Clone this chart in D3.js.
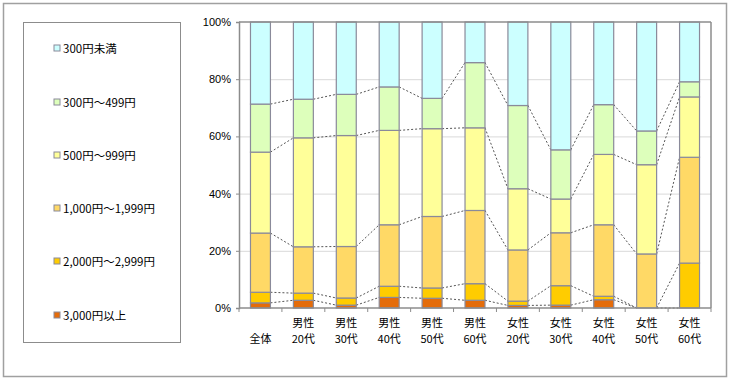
<!DOCTYPE html>
<html><head><meta charset="utf-8">
<script src="https://cdn.jsdelivr.net/npm/d3@7"></script>
<style>body{margin:0;background:#fff}svg{display:block;font-family:"Noto Sans CJK JP","Noto Sans",sans-serif}</style>
</head><body><svg id="c" width="730" height="380"></svg>
<script>
const categories = [["全体",""],["男性","20代"],["男性","30代"],["男性","40代"],["男性","50代"],["男性","60代"],["女性","20代"],["女性","30代"],["女性","40代"],["女性","50代"],["女性","60代"]];
const seriesNames = ["3,000円以上","2,000円～2,999円","1,000円～1,999円","500円～999円","300円～499円","300円未満"];
const seriesColors = ["#E46C0A","#FFCC00","#FFD966","#FFFF99","#DDFFBB","#CCFFFF"];
// values per series (percent), bottom to top
const s3000 = [1.8, 2.7, 1.0, 3.7, 3.4, 2.7, 0.9, 1.0, 2.9, 0, 0];
const s2000 = [3.7, 2.5, 2.5, 3.9, 3.6, 5.8, 1.5, 6.8, 1.2, 0, 15.7];
const s1000 = [20.7, 16.2, 18.0, 21.5, 25.0, 25.6, 17.9, 18.5, 25.0, 18.9, 37.0];
const s500  = [28.3, 38.1, 38.8, 33.0, 30.7, 28.9, 21.4, 11.8, 24.6, 31.2, 21.1];
const s300  = [16.8, 13.5, 14.4, 15.2, 10.6, 22.8, 29.1, 17.2, 17.4, 11.8, 5.3];
const sUnder = [28.7, 27.0, 25.3, 22.7, 26.7, 14.2, 29.2, 44.7, 28.9, 38.1, 20.9];
const yTicks = [0, 20, 40, 60, 80, 100];

const series = [s3000, s2000, s1000, s500, s300, sUnder];
const svg = d3.select("#c");
svg.append("rect").attr("x",3.5).attr("y",3.5).attr("width",723).attr("height",373).attr("fill","#fff").attr("stroke","#a0a0a0").attr("stroke-width",1.5);

const x0 = 239, x1 = 711, yTop = 22, yBot = 308;
const x = d3.scaleBand().domain(d3.range(categories.length)).range([x0, x1]).paddingInner(0.535).paddingOuter(0.2675);
const y = d3.scaleLinear().domain([0, 100]).range([yBot, yTop]);

// gridlines
svg.append("g").selectAll("line").data(yTicks.filter(t=>t>0 && t<100)).join("line")
  .attr("x1",x0).attr("x2",x1).attr("y1",d=>y(d)+0.5).attr("y2",d=>y(d)+0.5).attr("stroke","#d9d9d9").attr("stroke-width",1);

// stacks
const rows = categories.map((c,i)=>{const o={i}; series.forEach((s,k)=>o["s"+k]=s[i]); return o;});
const stack = d3.stack().keys(series.map((s,k)=>"s"+k))(rows);

// series lines
const bw = x.bandwidth();
stack.slice(0,5).forEach(layer=>{
  for(let i=0;i<layer.length-1;i++){
    svg.append("line").attr("x1",x(i)+bw).attr("x2",x(i+1))
      .attr("y1",y(layer[i][1])).attr("y2",y(layer[i+1][1]))
      .attr("stroke","#555").attr("stroke-width",1).attr("stroke-dasharray","2,2");
  }
});

stack.forEach((layer,k)=>{
  svg.append("g").selectAll("rect").data(layer.filter(d=>d[1]-d[0]>0)).join("rect")
    .attr("x",d=>x(d.data.i)).attr("width",bw)
    .attr("y",d=>y(d[1])).attr("height",d=>y(d[0])-y(d[1]))
    .attr("fill",seriesColors[k]).attr("stroke","#8a8a9a").attr("stroke-width",1.2);
});

// plot border top/right
svg.append("line").attr("x1",x0).attr("x2",x1).attr("y1",yTop).attr("y2",yTop).attr("stroke","#8c8c8c").attr("stroke-width",1.5);
svg.append("line").attr("x1",x1).attr("x2",x1).attr("y1",yTop).attr("y2",yBot).attr("stroke","#8c8c8c").attr("stroke-width",1.5);

// y axis
const ya = svg.append("g").attr("transform",`translate(${x0},0)`)
  .call(d3.axisLeft(y).tickValues(yTicks).tickFormat(d=>d+"%").tickSize(3).tickPadding(5));
ya.select(".domain").attr("stroke","#8c8c8c").attr("stroke-width",1.5);
ya.selectAll(".tick line").attr("stroke","#8c8c8c");
ya.selectAll("text").attr("font-size",11).attr("fill","#000");

// x axis
const xa = svg.append("g").attr("transform",`translate(0,${yBot})`);
xa.append("line").attr("x1",x0).attr("x2",x1).attr("stroke","#8c8c8c").attr("stroke-width",1.5);
const step = (x1-x0)/categories.length;
xa.selectAll(".tk").data(d3.range(categories.length+1)).join("line")
  .attr("x1",d=>x0+d*step).attr("x2",d=>x0+d*step).attr("y1",0).attr("y2",4).attr("stroke","#8c8c8c");
categories.forEach((c,i)=>{
  const cx = x(i)+bw/2;
  if(c[1]===""){
    xa.append("text").attr("x",cx).attr("y",35).attr("text-anchor","middle").attr("font-size",11).text(c[0]);
  } else {
    xa.append("text").attr("x",cx).attr("y",19).attr("text-anchor","middle").attr("font-size",11).text(c[0]);
    xa.append("text").attr("x",cx).attr("y",35).attr("text-anchor","middle").attr("font-size",11).text(c[1]);
  }
});

// legend
svg.append("rect").attr("x",23.5).attr("y",22.5).attr("width",157).attr("height",320).attr("fill","#fff").attr("stroke","#8c8c8c").attr("stroke-width",1);
const legY = [49,103,156,209,262,316];
const lg = svg.append("g");
seriesNames.slice().reverse().forEach((n,j)=>{
  const k = seriesNames.length-1-j;
  lg.append("rect").attr("x",54).attr("y",legY[j]-4).attr("width",6).attr("height",6)
    .attr("fill",seriesColors[k]).attr("stroke","#8a8a9a").attr("stroke-width",1);
  lg.append("text").attr("x",63).attr("y",legY[j]+4).attr("font-size",11.5).text(n);
});
</script></body></html>
